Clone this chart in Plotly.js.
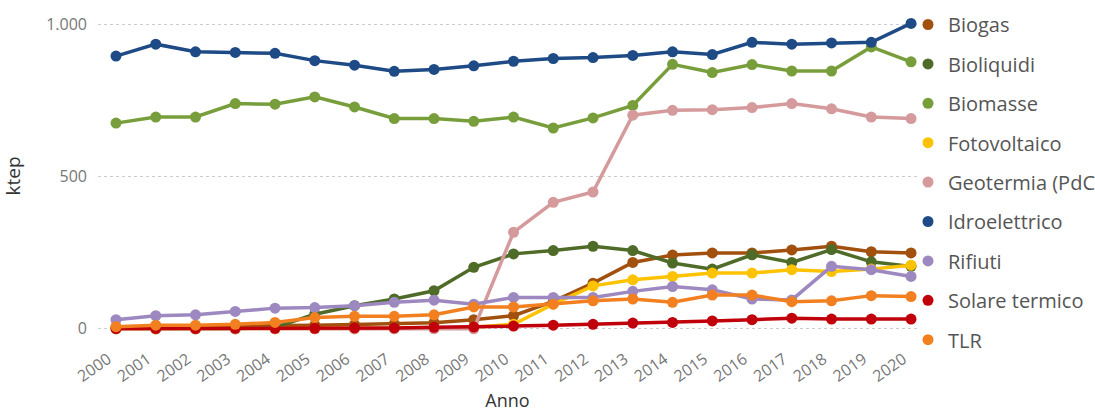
<!DOCTYPE html>
<html><head><meta charset="utf-8">
<script src="https://cdn.plot.ly/plotly-3.0.1.min.js"></script>
<style>html,body{margin:0;padding:0;background:#fff}#chart{width:1095px;height:412px}</style>
</head><body><div id="chart"></div>
<script>
const years = ["2000","2001","2002","2003","2004","2005","2006","2007","2008","2009","2010","2011","2012","2013","2014","2015","2016","2017","2018","2019","2020"];
const biogas        = [5,6,7,8,10,12,14,16,20,30,43,90,150,218,242,249,249,259,271,253,249];
const bioliquidi    = [0,0,0,0,5,48,76,98,125,202,246,257,271,257,216,196,243,218,260,220,205];
const biomasse      = [675,695,695,739,737,761,728,690,690,681,695,659,692,733,868,841,867,846,846,925,876];
const fotovoltaico  = [0,0,0,0,0,0,0,1,2,5,15,81,141,161,172,183,183,194,188,196,209];
const geotermia     = [0,0,0,0,0,0,0,0,0,0,317,415,449,701,717,719,726,739,722,695,690];
const idroelettrico = [895,934,909,907,904,880,865,845,851,863,878,887,890,897,909,900,940,934,938,940,1002];
const rifiuti       = [30,43,46,57,68,70,76,87,94,81,103,103,103,123,139,128,98,95,205,194,172];
const solareTermico = [1,1,1,2,2,2,3,3,5,6,9,12,15,19,21,26,30,35,32,32,32];
const tlr           = [7,12,12,15,21,37,41,41,46,72,72,81,92,98,87,111,111,89,92,109,106];

const seriesNames  = ["Biogas","Bioliquidi","Biomasse","Fotovoltaico","Geotermia (PdC)","Idroelettrico","Rifiuti","Solare termico","TLR"];
const seriesValues = [biogas,bioliquidi,biomasse,fotovoltaico,geotermia,idroelettrico,rifiuti,solareTermico,tlr];
const seriesColors = ["#A1500E","#4F6B28","#789E3B","#FDC200","#D49A9C","#1E4A85","#9E88C0","#C0000A","#F28020"];
const yTickVals = [0,500,1000];
const yTickText = ["0","500","1.000"];

const FONT = "'Segoe UI', 'Open Sans', 'Noto Sans', sans-serif";
const traces = [];
seriesNames.forEach((n,i)=>{
  traces.push({x:years,y:seriesValues[i],name:n,type:'scatter',mode:'lines+markers',
    line:{color:seriesColors[i],width:3.5},marker:{color:seriesColors[i],size:11},
    showlegend:false,hoverinfo:'x+y+name'});
});
seriesNames.forEach((n,i)=>{
  traces.push({x:[null],y:[null],name:n,type:'scatter',mode:'markers',
    marker:{color:seriesColors[i],size:11},legendgroup:'g'+i,showlegend:true});
});

const layout = {
  width:1095,height:412,
  margin:{l:98,r:178,t:14,b:74,autoexpand:false},
  paper_bgcolor:'#fff',plot_bgcolor:'#fff',
  font:{family:FONT,color:'#666'},
  showlegend:true,
  legend:{xref:'container',yref:'container',x:908/1095,xanchor:'left',y:1-5/412,yanchor:'top',
    traceorder:'grouped',tracegroupgap:10.4,itemwidth:30,maxheight:412,
    font:{size:20,color:'#555',family:FONT},bgcolor:'rgba(0,0,0,0)'},
  xaxis:{type:'category',range:[-0.453,20.15],tickangle:-35,showgrid:false,zeroline:false,
    showline:false,ticks:'',tickfont:{size:16,color:'#777'},automargin:false,
    ticklabelstandoff:8,ticklabelshift:-8,
    title:{text:'Anno',font:{size:18,color:'#333'},standoff:16}},
  yaxis:{range:[-30,1033],tickvals:yTickVals,ticktext:yTickText,showgrid:true,automargin:false,
    gridcolor:'#ccc',griddash:'dot',gridwidth:1,zeroline:false,showline:false,ticks:'',
    tickfont:{size:16,color:'#777'},ticklabelstandoff:10,
    title:{text:'ktep',font:{size:19,color:'#333'},standoff:20}}
};
Plotly.newPlot('chart',traces,layout,{displayModeBar:false,staticPlot:true});
</script></body></html>
